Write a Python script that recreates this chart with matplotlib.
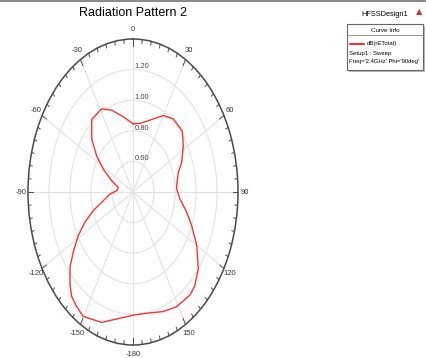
import numpy as np
import matplotlib
matplotlib.use("Agg")
import matplotlib.pyplot as plt
from matplotlib.patches import Rectangle
from matplotlib.lines import Line2D

# far-field cut (degrees clockwise from top, dB(rETotal))
theta_deg = [0, 8.5, 20.6, 30, 38.8, 49.7, 57.9, 67.4, 73.5, 84.4, 87.3, 95.8,
             104.5, 111.4, 119.9, 128.8, 135.9, 141.1, 151, 159.7, 170.7, 178.6,
             188.5, 199.3, 210.2, 215.6, 220.5, 224.6, 230.8, 235.4, 241.4, 246.7,
             252.2, 257.3, 266.6, 273.1, 282.2, 289.8, 297.8, 304.3, 311.2, 320.3,
             331.2, 339.2, 349.4, 358.4, 360]
gain = [0.846, 0.853, 0.906, 0.977, 1.013, 1.016, 0.966, 0.902, 0.850, 0.818, 0.816, 0.850,
        0.928, 1.000, 1.100, 1.198, 1.248, 1.265, 1.257, 1.233, 1.203, 1.203,
        1.234, 1.303, 1.341, 1.321, 1.299, 1.254, 1.174, 1.091, 0.993, 0.898,
        0.797, 0.705, 0.619, 0.555, 0.543, 0.616, 0.720, 0.819, 0.922, 1.016,
        1.020, 0.972, 0.900, 0.853, 0.846]

ring_values = [0.6, 0.8, 1.0, 1.2]
ring_labels = ["0.60", "0.80", "1.00", "1.20"]
angle_ticks = [0, 30, 60, 90, 120, 150, 180, 210, 240, 270, 300, 330]
angle_labels = ["0", "30", "60", "90", "120", "150", "-180", "-150", "-120", "-90", "-60", "-30"]
R_MIN, R_MAX = 0.4, 1.4
W, H = 427, 358

plt.rcParams["font.family"] = ["Liberation Sans", "DejaVu Sans"]
EDGE = "#4a4a4a"


def px(x, y):
    """pixel (from top-left) -> figure fraction"""
    return x / W, 1 - y / H


fig = plt.figure(figsize=(W / 100, H / 100), dpi=100)
ax = fig.add_axes([28 / W, 13 / H, 210 / W, 306 / H], projection="polar")
ax.set_aspect("auto")  # HFSS stretches the polar plot into an ellipse
ax.set_theta_zero_location("N")
ax.set_theta_direction(-1)
ax.set_ylim(R_MIN, R_MAX)
ax.set_xticks(np.radians(angle_ticks))
ax.set_xticklabels([])
ax.set_yticks(ring_values)
ax.set_yticklabels([])
ax.tick_params(axis="both", length=0)
ax.grid(True, color="#e2e2e2", linewidth=0.8)
ax.spines["polar"].set_color(EDGE)
ax.spines["polar"].set_linewidth(1.1)

# small tick marks round the rim
for d in range(0, 360, 5):
    t = np.radians(d)
    ln = 0.045 if d % 30 == 0 else 0.025
    ax.plot([t, t], [R_MAX - ln, R_MAX], color=EDGE, linewidth=0.7, clip_on=False)

for d, lab in zip(angle_ticks, angle_labels):
    ax.text(np.radians(d), R_MAX + 0.065, lab, ha="center", va="center",
            fontsize=5.5, color="#333333")

for r, lab in zip(ring_values, ring_labels):
    ax.annotate(lab, (0, r), xytext=(1, 2), textcoords="offset points",
                ha="left", va="center", fontsize=5.5, color="#444444")

ax.plot(np.radians(theta_deg), gain, color="#ff3030", linewidth=1.0)

fig.text(*px(133, 13), "Radiation Pattern 2", ha="center", va="center", fontsize=9)

# window chrome
fig.add_artist(Line2D([0, 1], [1 - 1 / H, 1 - 1 / H], color="#8a8a8a", linewidth=1.5))
fig.text(*px(385, 14), "HFSSDesign1", ha="center", va="center", fontsize=5.3)
fig.text(*px(419, 12), "\u25b2", ha="center", va="center", fontsize=6, color="#d03030",
         family="DejaVu Sans")

# "Curve Info" box
x0, y0, x1, y1 = 347, 24, 423, 70
sx, sy = px(x0 + 2, y1 + 2)
fig.add_artist(Rectangle((sx, sy), (x1 - x0) / W, (y1 - y0) / H,
                         transform=fig.transFigure, facecolor="#b8b8b8", edgecolor="none"))
bx, by = px(x0, y1)
fig.add_artist(Rectangle((bx, by), (x1 - x0) / W, (y1 - y0) / H,
                         transform=fig.transFigure, facecolor="white", edgecolor="#666666",
                         linewidth=0.8))
fig.add_artist(Line2D([x0 / W, x1 / W], [1 - 35 / H, 1 - 35 / H], color="#888888",
                      linewidth=0.6))
fig.text(*px(385, 30), "Curve Info", ha="center", va="center", fontsize=4.5)
fig.add_artist(Line2D([350 / W, 364 / W], [1 - 44 / H, 1 - 44 / H], color="red",
                      linewidth=1.2))
fig.text(*px(367, 44), "dB(rETotal)", ha="left", va="center", fontsize=4.3)
fig.text(*px(349, 53), "Setup1 : Sweep", ha="left", va="center", fontsize=4.3)
fig.text(*px(349, 62), "Freq='2.4GHz' Phi='90deg'", ha="left", va="center", fontsize=4.2)

fig.savefig("out.png", dpi=100)
